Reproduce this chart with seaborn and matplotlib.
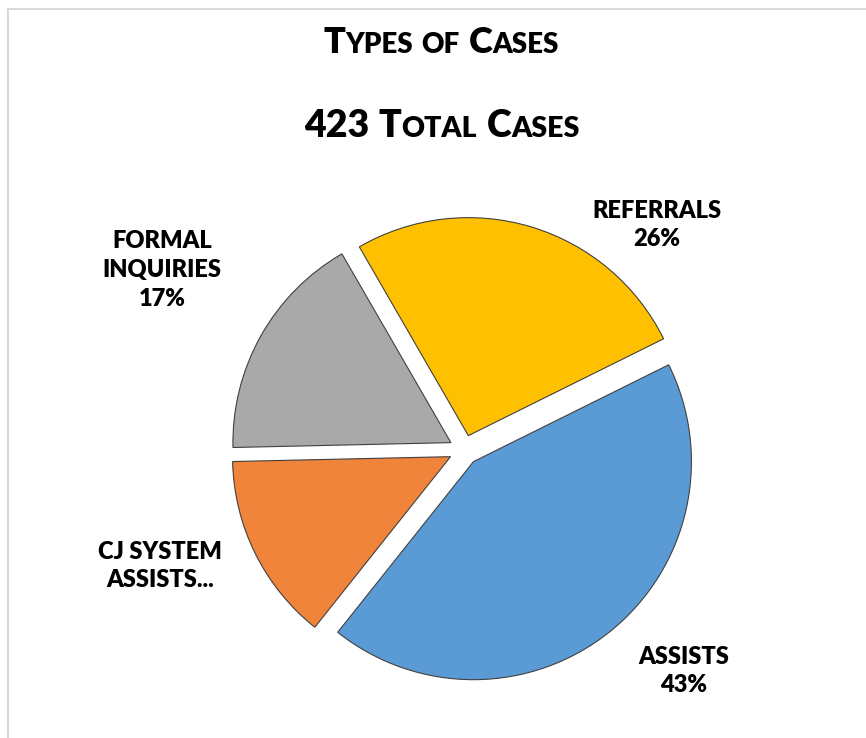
import matplotlib
matplotlib.use("Agg")
import matplotlib.pyplot as plt
import seaborn as sns
from matplotlib.patches import Rectangle

# ---------------- data ----------------
categories = ["REFERRALS", "ASSISTS", "CJ SYSTEM ASSISTS", "FORMAL INQUIRIES"]
counts = [110, 182, 59, 72]
label_texts = ["REFERRALS\n26%", "ASSISTS\n43%", "CJ SYSTEM\nASSISTS...", "FORMAL\nINQUIRIES\n17%"]
colors = ["#FFC000", "#5B9BD5", "#F0843A", "#A9A9A9"]
title_line1 = "Types of Cases"
title_line2 = "423 Total Cases"

sns.set_theme(style="white")
plt.rcParams["font.family"] = ["Lato", "DejaVu Sans"]

W, H = 866, 738
fig = plt.figure(figsize=(W / 100, H / 100), dpi=100)
fig.patch.set_facecolor("white")
ax = fig.add_axes([0, 0, 1, 1])

cx, cy = 464, H - 450
ax.pie(counts, colors=colors, startangle=120, counterclock=False,
       explode=[15] * len(counts), radius=218, center=(cx, cy),
       wedgeprops=dict(edgecolor="#404040", linewidth=0.8))
ax.set_xlim(0, W)
ax.set_ylim(0, H)
ax.set_aspect("equal")
ax.axis("off")

# chart border
ax.add_patch(Rectangle((8, -20), W + 20, H - 9 + 20, fill=False,
                       edgecolor="#D9D9D9", linewidth=1.5, clip_on=False))

# data labels
label_pos = [(657, 225), (684, 671), (160, 566), (162, 270)]
for txt, (x, y) in zip(label_texts, label_pos):
    ax.text(x, H - y, txt, ha="center", va="center", multialignment="center",
            fontsize=17, fontweight="heavy", color="#000000", linespacing=1.38)

# small-caps title
renderer = fig.canvas.get_renderer()


def smallcaps(xc, y_base, text, big, small):
    runs = []
    for ch in text:
        if ch == " ":
            runs.append((" ", big))
            continue
        size = big if (ch.isupper() or ch.isdigit()) else small
        if runs and runs[-1][1] == size and runs[-1][0] != " ":
            runs[-1] = (runs[-1][0] + ch.upper(), size)
        else:
            runs.append((ch.upper(), size))
    items = []
    total = 0
    for s, size in runs:
        if s == " ":
            w = 0.25 * size * 100 / 72
            items.append((None, w))
        else:
            t = ax.text(0, H - y_base, s, fontsize=size, fontweight="heavy",
                        ha="left", va="baseline", color="#000000")
            w = t.get_window_extent(renderer).width
            items.append((t, w))
        total += w
    x = xc - total / 2
    for t, w in items:
        if t is not None:
            t.set_x(x)
        x += w


smallcaps(441, 53, title_line1, 26, 20)
smallcaps(442, 137, title_line2, 27, 20.5)

fig.savefig("out.png", dpi=100, facecolor="white")
